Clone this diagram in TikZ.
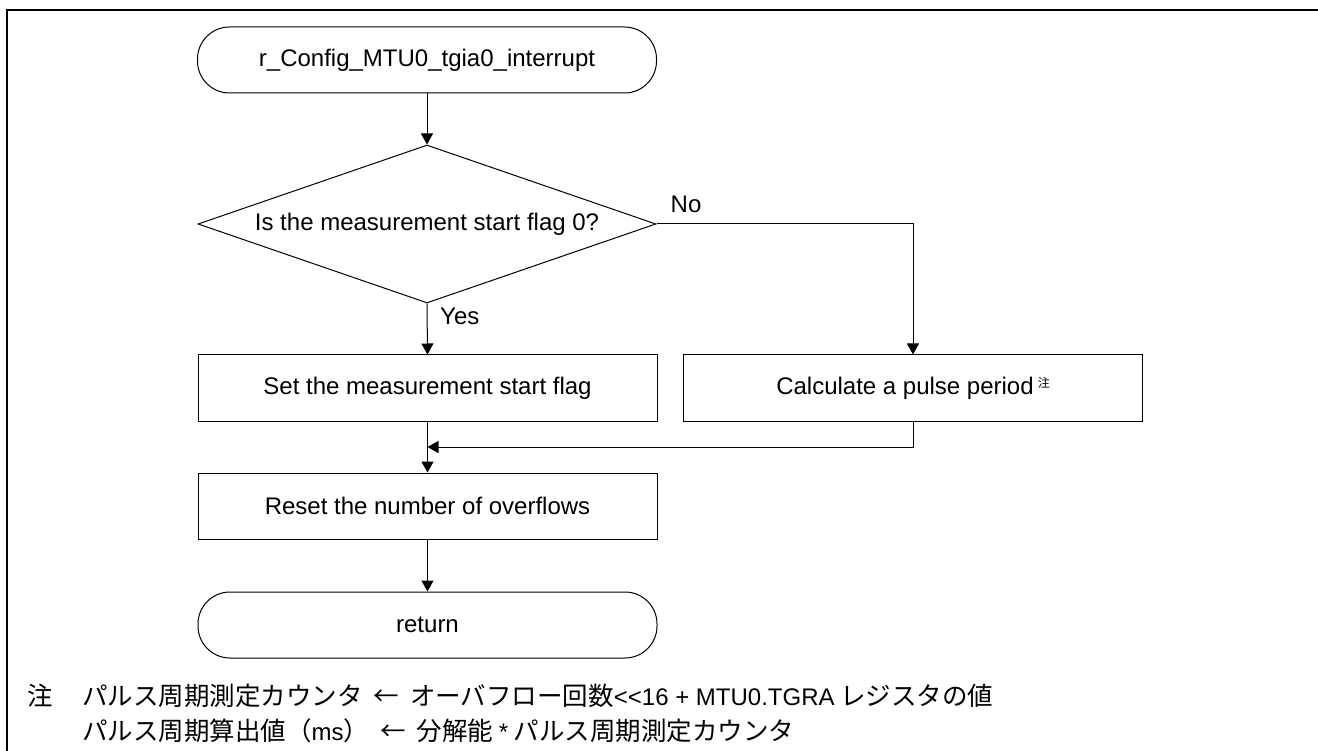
\documentclass[tikz,border=0pt]{standalone}
\usepackage{fontspec}
\setmainfont{Liberation Sans}
\newfontfamily\cjk{Noto Sans CJK JP}
\usetikzlibrary{arrows.meta,shapes.geometric}

% Latin run inside the footnote lines
\newcommand{\latn}[1]{{\rmfamily\fontsize{24}{28}\selectfont #1}}
% spaced arrow used in the footnote
\newcommand{\larr}{\hspace{11pt}←\hspace{11pt}}

\begin{document}
\begin{tikzpicture}[x=1pt,y=-1pt,
  lbl/.style={font=\fontsize{24}{28}\selectfont},
  proc/.style={draw, line width=1pt, minimum width=459pt, minimum height=66pt,
               inner sep=0pt, lbl},
  term/.style={proc, rounded corners=32pt},
  decision/.style={draw, line width=1pt, diamond, shape aspect=2.9,
                   minimum width=458pt, minimum height=158pt, inner sep=0pt, lbl},
  flow/.style={line width=1pt, -{Triangle[length=11pt,width=12pt]}},
  note/.style={anchor=base west, inner sep=0pt, font=\cjk\fontsize{25.5}{28}\selectfont}
]
\useasboundingbox (0,0) rectangle (1318,751);

% frame (open on the right and bottom)
\draw[line width=2.5pt] (1318,10) -- (7,10) -- (7,751);

% flowchart nodes
\node[term] (start) at (427,60) {r\_Config\_MTU0\_tgia0\_interrupt};
\node[decision] (dec) at (427,224) {Is the measurement start flag 0?};
\node[proc] (set) at (427.5,388) {Set the measurement start flag};
\node[proc] (calc) at (913,388) {Calculate a pulse period\,\raisebox{7pt}{\cjk\fontsize{12}{12}\selectfont 注}};
\node[proc] (reset) at (427.5,506) {Reset the number of overflows};
\node[term] (ret) at (427.5,625) {return};
\coordinate (merge) at (427.5,447);

% branch labels
\node[lbl, anchor=north west, inner sep=0pt] (yes) at ([xshift=13pt,yshift=-4pt]dec.south) {Yes};
\node[lbl, anchor=south west, inner sep=0pt] (no) at ([xshift=14pt,yshift=11pt]dec.east) {No};

% connectors
\draw[flow] (start) -- (dec);
\draw[flow] (dec.south) -- (set.north);
\draw[flow] (dec.east) -| (calc.north);
\draw[flow] (calc.south) |- (merge);
\draw[flow] (set) -- (reset);
\draw[flow] (reset) -- (ret);

% footnote
\node[note] (nmark) at (27,705) {注};
\node[note] (n1) at (82,705) {パルス周期測定カウンタ\larr オーバフロー回数\latn{{<}{<}16 + MTU0.TGRA} レジスタの値};
\node[note] (n2) at (82,740) {パルス周期算出値（\latn{ms}）\larr 分解能 \latn{*} パルス周期測定カウンタ};
\end{tikzpicture}
\end{document}
